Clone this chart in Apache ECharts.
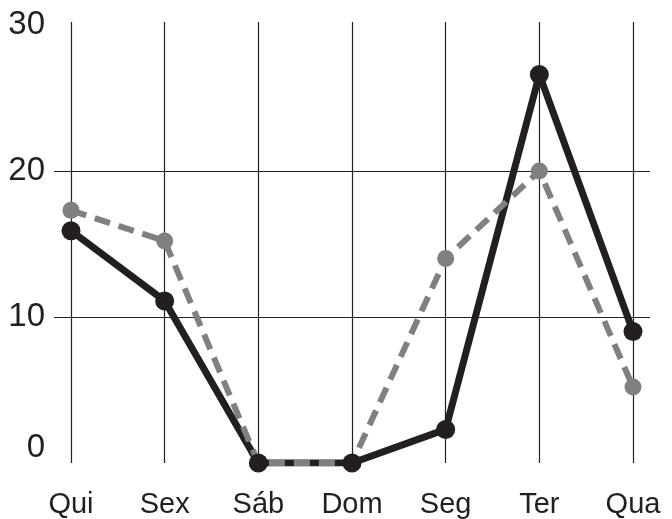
<!DOCTYPE html>
<html>
<head>
<meta charset="utf-8">
<script src="https://cdn.jsdelivr.net/npm/echarts@6/dist/echarts.min.js"></script>
<style>html,body{margin:0;padding:0;background:#fff;}#c{width:672px;height:519px;}</style>
</head>
<body>
<div id="c"></div>
<script>
const days = ['Qui', 'Sex', 'Sáb', 'Dom', 'Seg', 'Ter', 'Qua'];
const blackSeries = [15.9, 11.1, 0, 0, 2.3, 26.6, 9.0];
const graySeries = [17.3, 15.2, 0, 0, 14.0, 20.0, 5.2];
const yTicks = [0, 10, 20, 30];

const ink = '#231f20';
const gray = '#808080';
const font = 'Liberation Sans, Arial, sans-serif';

const chart = echarts.init(document.getElementById('c'));
chart.setOption({
  animation: false,
  backgroundColor: '#fff',
  grid: [
    { left: 54, right: 22, top: 25, bottom: 56 },
    { left: 71, right: 39, top: 22, bottom: 56 }
  ],
  xAxis: [
    { gridIndex: 0, type: 'value', show: false, min: 0, max: 1 },
    {
      gridIndex: 1, type: 'category', data: days, boundaryGap: false,
      axisLine: { show: false }, axisTick: { show: false },
      splitLine: { show: true, lineStyle: { color: ink, width: 1.2 } },
      axisLabel: { fontSize: 29, margin: 27, color: ink, fontFamily: font }
    }
  ],
  yAxis: [
    {
      gridIndex: 0, type: 'value', min: yTicks[0], max: yTicks[yTicks.length - 1], interval: 10,
      axisLine: { show: false }, axisTick: { show: false },
      splitLine: { show: true, showMinLine: false, showMaxLine: false, lineStyle: { color: ink, width: 1.2 } },
      axisLabel: {
        fontSize: 33, margin: 9, color: ink, fontFamily: font,
        formatter: v => v === 0 ? '{z|0}' : String(v),
        rich: { z: { fontSize: 33, color: ink, fontFamily: font, padding: [0, 0, 30, 0] } }
      }
    },
    { gridIndex: 1, type: 'value', min: 0, max: 30.2, show: false }
  ],
  series: [
    {
      type: 'line', xAxisIndex: 1, yAxisIndex: 1, data: blackSeries, z: 2,
      showSymbol: false, lineStyle: { color: ink, width: 7 }, itemStyle: { color: ink }
    },
    {
      type: 'line', xAxisIndex: 1, yAxisIndex: 1, data: graySeries, z: 3,
      symbol: 'circle', symbolSize: 17,
      lineStyle: { color: gray, width: 6, type: [16, 9] }, itemStyle: { color: gray }
    },
    {
      type: 'line', xAxisIndex: 1, yAxisIndex: 1, data: blackSeries, z: 4,
      symbol: 'circle', symbolSize: 19,
      lineStyle: { width: 0, opacity: 0 }, itemStyle: { color: ink }
    }
  ]
});
</script>
</body>
</html>
